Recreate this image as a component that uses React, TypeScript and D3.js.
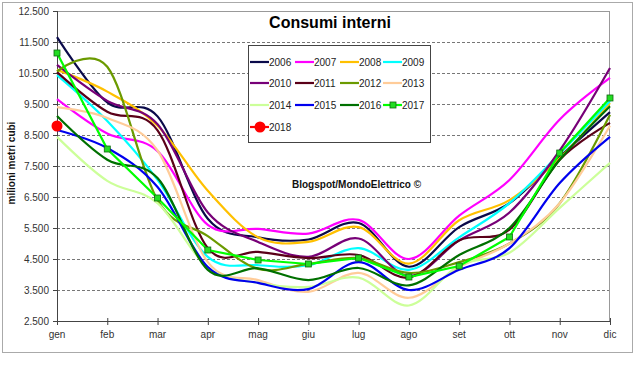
import React from "react";
import * as d3 from "d3";

const W = 640;
const H = 365;

const months = ["gen", "feb", "mar", "apr", "mag", "giu", "lug", "ago", "set", "ott", "nov", "dic"];
const yTicks = [2500, 3500, 4500, 5500, 6500, 7500, 8500, 9500, 10500, 11500, 12500];

// milioni metri cubi, per mese
const s2006 = [11660, 9550, 9100, 5800, 5200, 5130, 5660, 4250, 5530, 6300, 7800, 9240];
const s2007 = [9660, 8550, 7980, 5600, 5470, 5320, 5760, 4500, 5900, 7050, 9000, 10340];
const s2008 = [10600, 9900, 8800, 6700, 5200, 5050, 5530, 4350, 5750, 6400, 7750, 9530];
const s2009 = [10430, 8950, 7050, 4570, 4300, 4300, 4850, 4150, 5200, 6300, 7900, 9600];
const s2010 = [10760, 9600, 8850, 6000, 5050, 4570, 5160, 3950, 5100, 6000, 8000, 10660];
const s2011 = [10530, 9250, 8650, 4850, 4730, 4530, 4630, 3900, 5100, 5450, 7700, 8890];
const s2012 = [10550, 10700, 6400, 5240, 4180, 4340, 4530, 4050, 4400, 5000, 6300, 9150];
const s2013 = [9400, 9050, 8000, 4400, 3820, 3440, 4050, 3250, 4240, 5000, 6300, 8800];
const s2014 = [8440, 7020, 6300, 4220, 3730, 3600, 3900, 3000, 4300, 4700, 6150, 7600];
const s2015 = [8660, 8080, 6820, 4240, 3730, 3530, 4400, 3500, 4150, 4850, 6950, 8440];
const s2016 = [9110, 7700, 7110, 4150, 4200, 3820, 4210, 3650, 4630, 5500, 7700, 9430];
const s2017 = [11145, 8048, 6468, 4790, 4468, 4339, 4532, 3919, 4274, 5210, 7919, 9694];
const s2018 = [8790];

const series = [
  { name: "2006", values: s2006, color: "#0a0a4a" },
  { name: "2007", values: s2007, color: "#ff00ff" },
  { name: "2008", values: s2008, color: "#ffc000" },
  { name: "2009", values: s2009, color: "#00ffff" },
  { name: "2010", values: s2010, color: "#770077" },
  { name: "2011", values: s2011, color: "#5a0018" },
  { name: "2012", values: s2012, color: "#6b9a00" },
  { name: "2013", values: s2013, color: "#ffcc99" },
  { name: "2014", values: s2014, color: "#ccff99" },
  { name: "2015", values: s2015, color: "#0000ee" },
  { name: "2016", values: s2016, color: "#007000" },
  { name: "2017", values: s2017, color: "#00ff00", marker: "square", straight: true },
  { name: "2018", values: s2018, color: "#ff0000", marker: "circle", straight: true },
];

const font = "'Liberation Sans', Arial, sans-serif";

const App = () => {
  const x = d3.scalePoint<string>().domain(months).range([57, 610]);
  const y = d3.scaleLinear().domain([2500, 12500]).range([321, 11]);

  const smooth = d3
    .line<number>()
    .x((d, i) => x(months[i]) as number)
    .y((d) => y(d))
    .curve(d3.curveCardinal.tension(0));
  const straight = d3
    .line<number>()
    .x((d, i) => x(months[i]) as number)
    .y((d) => y(d));

  const marker = (s: any, cx: number, cy: number, key: string) =>
    s.marker === "square" ? (
      <rect key={key} x={cx - 3} y={cy - 3} width={6} height={6} fill="#22dd22" stroke="#116611" strokeWidth={0.8} />
    ) : (
      <circle key={key} cx={cx} cy={cy} r={5.5} fill="#ff0000" />
    );

  const legendCols = [250, 295, 340, 383];
  const legendRows = [62, 83, 105, 127];

  return (
    <svg width={W} height={H} style={{ position: "absolute", left: 0, top: 0, background: "#fff" }} fontFamily={font}>
      <rect x={2.5} y={2.5} width={630} height={350} fill="none" stroke="#aaa" />

      {/* grid */}
      {yTicks.slice(1, -1).map((t) => (
        <line key={t} x1={57} x2={610} y1={y(t) + 0.5} y2={y(t) + 0.5} stroke="#777" strokeDasharray="3 2" />
      ))}
      <line x1={57} x2={610} y1={11.5} y2={11.5} stroke="#999" />
      <line x1={609.5} x2={609.5} y1={11} y2={321} stroke="#999" />

      {/* axes */}
      <line x1={57.5} x2={57.5} y1={11} y2={321} stroke="#444" />
      <line x1={57} x2={610} y1={321.5} y2={321.5} stroke="#444" />
      {yTicks.map((t) => (
        <g key={t}>
          <line x1={53} x2={57} y1={y(t) + 0.5} y2={y(t) + 0.5} stroke="#444" />
          <text x={49} y={y(t) + 3.5} fontSize={10} textAnchor="end" fill="#333">
            {d3.format(",")(t).replace(",", ".")}
          </text>
        </g>
      ))}
      {months.map((m) => (
        <g key={m}>
          <line x1={(x(m) as number) + 0.5} x2={(x(m) as number) + 0.5} y1={318} y2={325} stroke="#444" />
          <text x={x(m)} y={338} fontSize={10} textAnchor="middle" fill="#333">
            {m}
          </text>
        </g>
      ))}

      <text
        transform="translate(15,163) rotate(-90)"
        fontSize={10}
        fontWeight="bold"
        textAnchor="middle"
        fill="#111"
      >
        milioni metri cubi
      </text>

      {/* series */}
      {series.map((s) => (
        <g key={s.name}>
          {s.values.length > 1 && (
            <path
              d={(s.straight ? straight : smooth)(s.values) as string}
              fill="none"
              stroke={s.color}
              strokeWidth={2.2}
            />
          )}
          {s.marker && s.values.map((v, i) => marker(s, x(months[i]) as number, y(v), s.name + i))}
        </g>
      ))}

      <text x={330} y={28} fontSize={16} fontWeight="bold" textAnchor="middle" fill="#000">
        Consumi interni
      </text>
      <text x={292} y={188} fontSize={10} fontWeight="bold" fill="#111">
        Blogspot/MondoElettrico ©
      </text>

      {/* legend */}
      <rect x={248.5} y={45.5} width={182} height={97} fill="#fff" stroke="#444" />
      {series.map((s, i) => {
        const lx = legendCols[i % 4];
        const ly = legendRows[Math.floor(i / 4)];
        return (
          <g key={s.name}>
            <line x1={lx} x2={lx + 19} y1={ly} y2={ly} stroke={s.color} strokeWidth={2.2} />
            {s.marker && marker(s, lx + 10, ly, "lg" + s.name)}
            <text x={lx + 19} y={ly + 3.5} fontSize={10} fill="#222">
              {s.name}
            </text>
          </g>
        );
      })}
    </svg>
  );
};

export default App;
